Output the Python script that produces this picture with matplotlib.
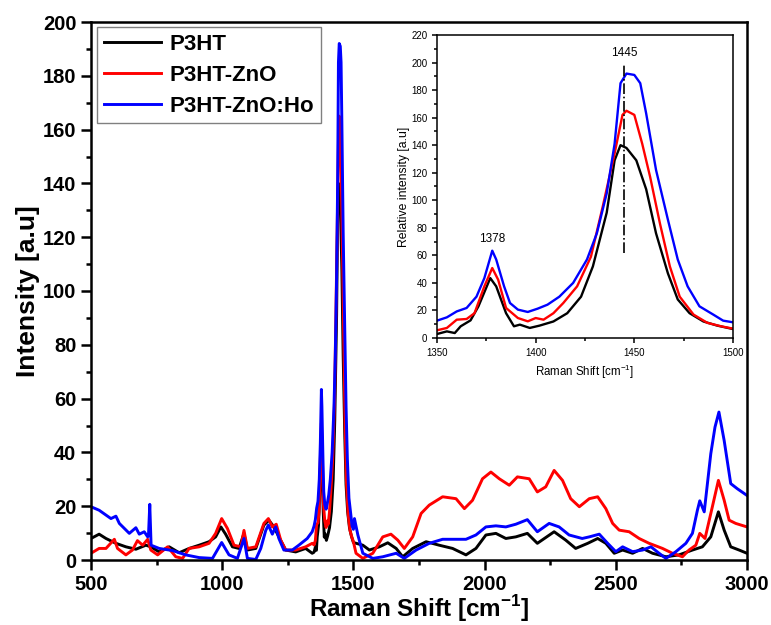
"""
raman spectra of p3ht films with a zoomed inset of the 1350-1500 band
"""

import numpy as np
import matplotlib
matplotlib.use("Agg")
import matplotlib.pyplot as plt
from matplotlib.ticker import MultipleLocator

plt.rcParams['font.family'] = ['Liberation Sans', 'DejaVu Sans']
plt.rcParams['mathtext.fontset'] = 'custom'
plt.rcParams['mathtext.rm'] = 'Liberation Sans'
plt.rcParams['mathtext.bf'] = 'Liberation Sans:bold'

labels = ["P3HT", "P3HT-ZnO", "P3HT-ZnO:Ho"]
colors = ["black", "red", "blue"]

# --- 500 to 1350 cm-1 ---
low_x_p3ht = [500, 531, 557, 595, 633, 671, 709, 728, 760, 798, 836, 874, 912, 950, 975,
              995, 1013, 1039, 1064, 1083, 1096, 1128, 1159, 1178, 1197, 1216, 1242, 1280,
              1318, 1343]
low_y_p3ht = [8, 9.6, 8, 6.2, 4.9, 4, 5.5, 4.9, 3, 4.9, 2.7, 4.3, 5.5, 6.8, 8.6,
              12.3, 9.6, 4.9, 4.3, 9.9, 3.7, 4.3, 13, 14.8, 12.3, 8.6, 3.7, 3,
              4.3, 2.5]

low_x_zno = [500, 531, 557, 589, 601, 633, 658, 677, 697, 716, 728, 754, 792, 823, 849,
             874, 912, 950, 975, 998, 1020, 1045, 1071, 1083, 1096, 1128, 1159, 1176,
             1191, 1206, 1223, 1242, 1280, 1318, 1343]
low_y_zno = [2.5, 4.3, 4.3, 7.7, 4.3, 1.9, 3.7, 7.2, 5.5, 7.7, 3.7, 1.9, 4.9, 1.2, 0.6,
             4.3, 4.9, 6.2, 9.9, 15.4, 11.7, 5.5, 4.9, 11, 4.3, 4.9, 13.6, 15.4,
             12.3, 13.3, 7.4, 3.7, 3.7, 4.9, 6.2]

low_x_ho = [500, 531, 576, 595, 608, 646, 671, 684, 703, 716, 719, 724, 729, 760, 811,
            861, 912, 963, 998, 1026, 1058, 1083, 1096, 1128, 1147, 1166, 1176, 1191,
            1204, 1216, 1235, 1267, 1292, 1324, 1343]
low_y_ho = [19.8, 18.5, 15.4, 16.3, 13.6, 9.9, 12, 9.6, 10.5, 8.6, 9, 20.7, 5.5, 4.3, 3.5,
            1.9, 0.9, 0.6, 6.5, 1.9, 0.6, 8, 0.6, 0.2, 4.3, 11, 13, 9.6,
            12.3, 8, 3.7, 3.7, 5.5, 8, 10.5]

# --- 1350 to 1500 cm-1 (also used in main plot) ---
mid_x_p3ht = [1350, 1355, 1359, 1362, 1367, 1371, 1377, 1380, 1385, 1389, 1392, 1397, 1402,
              1409, 1416, 1423, 1429, 1436, 1440, 1443, 1446, 1451, 1456, 1461, 1467,
              1472, 1478, 1485, 1492, 1500]
mid_y_p3ht = [2.9, 4.8, 3.6, 8.5, 12.8, 23, 43.5, 37.5, 18, 8.5, 9.7, 7.3, 9,
              12, 18, 30, 52, 91, 129, 140, 138, 129, 108, 76, 47,
              28, 18, 12, 9, 6.5]

mid_x_zno = [1350, 1355, 1360, 1365, 1369, 1374, 1378, 1381, 1385, 1391, 1396, 1400, 1404,
             1409, 1414, 1421, 1428, 1434, 1440, 1444, 1446, 1450, 1454, 1458, 1463,
             1468, 1473, 1480, 1487, 1494, 1500]
mid_y_zno = [5.6, 7.3, 13.3, 13.8, 18, 37.5, 50.8, 42.3, 21.8, 14.5, 12.1, 14.5, 13.3,
             18, 25.4, 37.5, 59, 95.5, 134, 162, 165, 162, 141, 117, 83,
             52, 30, 17, 11, 8.5, 6.8]

mid_x_ho = [1350, 1355, 1360, 1365, 1370, 1374, 1378, 1380, 1384, 1387, 1391, 1396, 1401,
            1406, 1412, 1419, 1426, 1431, 1436, 1440, 1443, 1446, 1450, 1453, 1456,
            1461, 1467, 1472, 1477, 1483, 1490, 1495, 1500]
mid_y_ho = [12.6, 15, 19.3, 21.8, 30, 43.5, 63.4, 57, 37.5, 25.4, 20.6, 18.9, 21.3,
            24.2, 30, 40, 57, 76, 105, 141, 185, 192, 191, 185, 163,
            122, 86, 57, 37.5, 23, 17, 12.6, 11.4]

# --- 1500 to 3000 cm-1 ---
high_x_p3ht = [1536, 1561, 1599, 1631, 1663, 1688, 1726, 1777, 1827, 1878, 1929, 1967, 2005,
               2043, 2081, 2119, 2163, 2201, 2265, 2309, 2347, 2393, 2431, 2462, 2494,
               2526, 2564, 2602, 2640, 2691, 2741, 2792, 2830, 2862, 2891, 2913, 2938,
               2970, 3000]
high_y_p3ht = [5.5, 3.7, 4.9, 6.4, 4.3, 1.2, 4.3, 6.8, 5.5, 4.3, 1.9, 4.3, 9.3,
               9.9, 8, 8.6, 9.9, 6.2, 10.5, 7.4, 4.3, 6.2, 8, 6.2, 2.5,
               3.7, 2.5, 4.3, 2.5, 1.2, 1.9, 3.7, 4.9, 8.6, 17.9, 11.1, 4.9,
               3.7, 2.5]

high_x_zno = [1510, 1536, 1574, 1612, 1643, 1669, 1694, 1726, 1758, 1789, 1840, 1891, 1923,
              1954, 1992, 2024, 2056, 2094, 2125, 2170, 2201, 2233, 2265, 2297, 2328,
              2361, 2399, 2431, 2462, 2488, 2513, 2551, 2589, 2627, 2678, 2716, 2754,
              2779, 2805, 2820, 2840, 2868, 2891, 2913, 2932, 2957, 3000]
high_y_zno = [2.5, 0.6, 2.5, 8.6, 9.6, 7.4, 4.3, 8.6, 17.3, 20.4, 23.5, 22.8, 19.1,
              22.2, 30.2, 32.7, 30.2, 27.8, 30.9, 30.2, 25.3, 27.2, 33.3, 29.6, 22.8,
              19.8, 22.8, 23.5, 19.1, 13.6, 11.1, 10.5, 8, 6.2, 4.3, 2.5, 1.2,
              3.7, 5.5, 9.9, 8, 19.8, 29.6, 22.2, 14.8, 13.6, 12.3]

high_x_ho = [1504, 1517, 1536, 1574, 1612, 1663, 1694, 1739, 1789, 1840, 1891, 1929, 1967,
             2005, 2043, 2081, 2119, 2163, 2201, 2246, 2284, 2322, 2372, 2399, 2437,
             2469, 2500, 2526, 2564, 2602, 2634, 2665, 2691, 2729, 2767, 2792, 2811,
             2820, 2837, 2862, 2878, 2893, 2913, 2938, 2963, 3000]
high_y_ho = [15.4, 9.3, 2.5, 0.6, 1.2, 2.5, 0.6, 3.7, 6.2, 7.7, 7.7, 7.7, 9.3,
             12.3, 12.7, 12.3, 13.3, 15, 10.5, 13.6, 12.3, 9.3, 8, 8.6, 9.6,
             6.2, 3.1, 4.9, 3.1, 3.7, 4.9, 2.5, 0.6, 3.1, 6.2, 9.9, 18.5,
             22, 17.9, 39.5, 49.4, 55, 44.4, 28.4, 26.5, 24]

# inset annotations
peak_labels = ["1378", "1445"]
peak_pos = [1378, 1445]
peak_text_y = [72, 207]
marker_line_y = [62, 200]


def full_series(low_x, low_y, mid_x, mid_y, high_x, high_y):
    """join the three read-off ranges into one spectrum"""
    x = np.concatenate([low_x, mid_x, high_x])
    y = np.concatenate([low_y, mid_y, high_y])
    return x, y


def style_axis(axis, width, major_len, minor_len):
    for spine in axis.spines.values():
        spine.set_linewidth(width)
    axis.tick_params(which='major', direction='out', length=major_len, width=width)
    axis.tick_params(which='minor', direction='out', length=minor_len, width=width)


series = [
    full_series(low_x_p3ht, low_y_p3ht, mid_x_p3ht, mid_y_p3ht, high_x_p3ht, high_y_p3ht),
    full_series(low_x_zno, low_y_zno, mid_x_zno, mid_y_zno, high_x_zno, high_y_zno),
    full_series(low_x_ho, low_y_ho, mid_x_ho, mid_y_ho, high_x_ho, high_y_ho),
]
inset_series = [(mid_x_p3ht, mid_y_p3ht), (mid_x_zno, mid_y_zno), (mid_x_ho, mid_y_ho)]

W, H = 771, 625
fig = plt.figure(figsize=(W / 100, H / 100), dpi=100)

# main axes
ax = fig.add_axes([91 / W, 1 - 560 / H, (747 - 91) / W, (560 - 22) / H])
for (x, y), c, lab in zip(series, colors, labels):
    ax.plot(x, y, color=c, lw=2.1, label=lab)

ax.set_xlim(500, 3000)
ax.set_ylim(0, 200)
ax.xaxis.set_major_locator(MultipleLocator(500))
ax.xaxis.set_minor_locator(MultipleLocator(250))
ax.yaxis.set_major_locator(MultipleLocator(20))
ax.yaxis.set_minor_locator(MultipleLocator(10))
style_axis(ax, 1.8, 7, 3.5)
for t in ax.get_xticklabels() + ax.get_yticklabels():
    t.set_fontsize(14.5)
    t.set_fontweight('bold')
ax.set_xlabel(r'Raman Shift [cm$^{\mathbf{-1}}$]', fontsize=17.5, fontweight='bold', labelpad=0)
ax.set_ylabel('Intensity [a.u]', fontsize=19, fontweight='bold', labelpad=2)

leg = ax.legend(loc='upper left', bbox_to_anchor=(0.009, 0.991), borderaxespad=0,
                fancybox=False, framealpha=1, edgecolor='#808080',
                prop={'weight': 'bold', 'size': 16},
                handlelength=2.6, handletextpad=0.36, labelspacing=0.45,
                borderpad=0.3)
leg.get_frame().set_linewidth(1.0)

# inset axes
ins = fig.add_axes([437 / W, 1 - 338 / H, (733 - 437) / W, (338 - 35) / H])
for (x, y), c in zip(inset_series, colors):
    ins.plot(x, y, color=c, lw=1.7)

ins.plot([peak_pos[1], peak_pos[1]], marker_line_y, color='black', lw=1.2, ls='-.')
for txt, px, py in zip(peak_labels, peak_pos, peak_text_y):
    ins.text(px, py, txt, ha='center', va='center', fontsize=8.5)

ins.set_xlim(1350, 1500)
ins.set_ylim(0, 220)
ins.xaxis.set_major_locator(MultipleLocator(50))
ins.xaxis.set_minor_locator(MultipleLocator(25))
ins.yaxis.set_major_locator(MultipleLocator(20))
ins.yaxis.set_minor_locator(MultipleLocator(10))
style_axis(ins, 1.1, 3.5, 2)
ins.tick_params(labelsize=7)
ins.set_xlabel(r'Raman Shift [cm$^{\mathrm{-1}}$]', fontsize=8.3, labelpad=4)
ins.set_ylabel('Relative intensity [a.u]', fontsize=8.8, labelpad=1)

fig.savefig("out.png", dpi=100)
